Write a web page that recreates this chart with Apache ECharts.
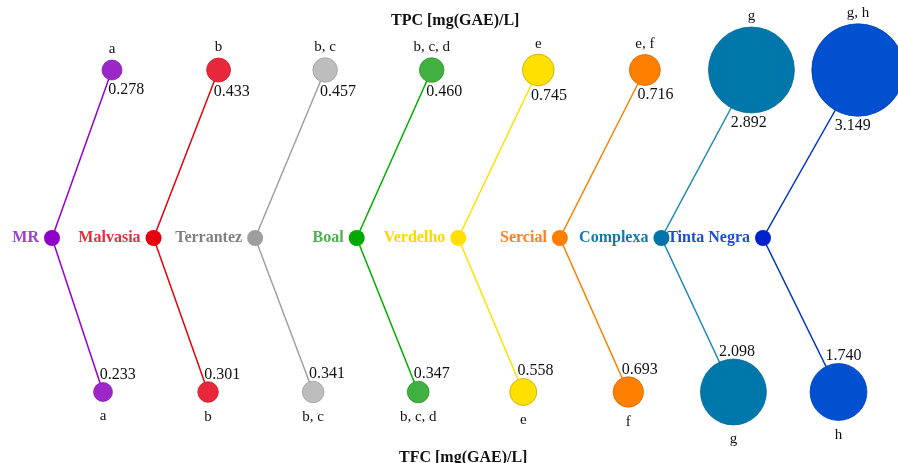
<!DOCTYPE html>
<html>
<head>
<meta charset="utf-8">
<script src="https://cdn.jsdelivr.net/npm/echarts@6/dist/echarts.min.js"></script>
<style>html,body{margin:0;padding:0;background:#fff;}#c{width:898px;height:463px;}</style>
</head>
<body>
<div id="c"></div>
<script>
// ---- data ----
const varieties = ['MR', 'Malvasia', 'Terrantez', 'Boal', 'Verdelho', 'Sercial', 'Complexa', 'Tinta Negra'];
const tpcValues = [0.278, 0.433, 0.457, 0.460, 0.745, 0.716, 2.892, 3.149];
const tfcValues = [0.233, 0.301, 0.341, 0.347, 0.558, 0.693, 2.098, 1.740];
const tpcLetters = ['a', 'b', 'b, c', 'b, c, d', 'e', 'e, f', 'g', 'g, h'];
const tfcLetters = ['a', 'b', 'b, c', 'b, c, d', 'e', 'f', 'g', 'h'];
const tpcTitle = 'TPC [mg(GAE)/L]';
const tfcTitle = 'TFC [mg(GAE)/L]';

// ---- styles ----
const centerColors = ['#8E00C8', '#E8000E', '#A09DA0', '#00A800', '#FFE000', '#FF7F00', '#0073A8', '#0022CC'];
const nodeColors   = ['#9C27C8', '#E8283A', '#BDBDBD', '#40B040', '#FFE000', '#FF7F00', '#0077AA', '#0050D0'];
const borderColors = ['#8A20B0', '#C82030', '#A0A0A0', '#309830', '#C8A800', '#E06800', '#006A98', '#0040B8'];
const lineColors   = ['#9400D3', '#E8000B', '#A0A0A0', '#00B000', '#FFE000', '#FF8000', '#1C8AB8', '#0033CC'];
const labelColors  = ['#A040D0', '#E03040', '#808080', '#50B050', '#FFD700', '#FF8020', '#0E7AB0', '#1A4FD0'];
const SERIF = '"Times New Roman", "Liberation Serif", serif';

// ---- layout helpers ----
const PX = 711 / 7;           // px per x unit
const UP = 168, DOWN = 154;   // px from centre level to TPC / TFC level
const levelBot = -DOWN / UP;
const size = v => 13 + 25.2 * v;
const topDx = i => 60 + 5 * i;
const botDx = i => 51 + 3.5 * i;

const centerData = varieties.map((n, i) => ({
  name: n, value: [i, 0],
  itemStyle: { color: centerColors[i] },
  label: { color: labelColors[i] }
}));

const topData = tpcValues.map((v, i) => {
  const dx = topDx(i), d = size(v), r = d / 2, L = Math.hypot(dx, UP);
  const ux = -dx / L;
  return {
    value: [i + dx / PX, 1, v], symbolSize: d,
    itemStyle: { color: nodeColors[i], borderColor: borderColors[i], borderWidth: 0.8 },
    label: { position: [r + r * ux, d + 2] }
  };
});
const botData = tfcValues.map((v, i) => {
  const dx = botDx(i), d = size(v), r = d / 2, L = Math.hypot(dx, DOWN);
  const ux = -dx / L;
  return {
    value: [i + dx / PX, levelBot, v], symbolSize: d,
    itemStyle: { color: nodeColors[i], borderColor: borderColors[i], borderWidth: 0.8 },
    label: { position: [r + r * ux, 1] }
  };
});
const topLetterData = tpcValues.map((v, i) => ({ value: [i + topDx(i) / PX, 1], symbolSize: size(v), letter: tpcLetters[i] }));
const botLetterData = tfcValues.map((v, i) => ({ value: [i + botDx(i) / PX, levelBot], symbolSize: size(v), letter: tfcLetters[i] }));

const linesData = varieties.map((n, i) => ({
  coords: [[i + topDx(i) / PX, 1], [i, 0], [i + botDx(i) / PX, levelBot]],
  lineStyle: { color: lineColors[i] }
}));

const chart = echarts.init(document.getElementById('c'));
chart.setOption({
  animation: false,
  title: [
    { text: tpcTitle, left: 386, top: 8, textStyle: { fontFamily: SERIF, fontWeight: 'bold', fontSize: 16, color: '#111' } },
    { text: tfcTitle, left: 394, top: 445, textStyle: { fontFamily: SERIF, fontWeight: 'bold', fontSize: 16, color: '#111' } }
  ],
  grid: { left: 52, right: 135, top: 70, bottom: 71 },
  xAxis: { type: 'value', min: 0, max: 7, show: false },
  yAxis: { type: 'value', min: levelBot, max: 1, show: false },
  series: [
    {
      type: 'lines', coordinateSystem: 'cartesian2d', polyline: true, z: 1, clip: false,
      lineStyle: { width: 1.5, opacity: 1 }, silent: true,
      data: linesData
    },
    {
      type: 'scatter', clip: false, z: 3, symbolSize: 16,
      itemStyle: { opacity: 1 },
      data: centerData,
      label: { show: true, position: 'left', distance: 5, formatter: p => p.name,
        fontFamily: SERIF, fontWeight: 'bold', fontSize: 16 }
    },
    {
      type: 'scatter', clip: false, z: 3, data: topData,
      itemStyle: { opacity: 1 },
      label: { show: true, align: 'left', verticalAlign: 'top', formatter: p => p.value[2].toFixed(3),
        fontFamily: SERIF, fontSize: 16, color: '#111' }
    },
    {
      type: 'scatter', clip: false, z: 3, data: botData,
      itemStyle: { opacity: 1 },
      label: { show: true, align: 'left', verticalAlign: 'bottom', formatter: p => p.value[2].toFixed(3),
        fontFamily: SERIF, fontSize: 16, color: '#111' }
    },
    {
      type: 'scatter', clip: false, z: 4, silent: true, data: topLetterData,
      itemStyle: { color: 'rgba(0,0,0,0)', opacity: 1 },
      label: { show: true, position: 'top', distance: 3, formatter: p => p.data.letter,
        fontFamily: SERIF, fontSize: 15, color: '#111' }
    },
    {
      type: 'scatter', clip: false, z: 4, silent: true, data: botLetterData,
      itemStyle: { color: 'rgba(0,0,0,0)', opacity: 1 },
      label: { show: true, position: 'bottom', distance: 7, formatter: p => p.data.letter,
        fontFamily: SERIF, fontSize: 15, color: '#111' }
    }
  ]
});
</script>
</body>
</html>
